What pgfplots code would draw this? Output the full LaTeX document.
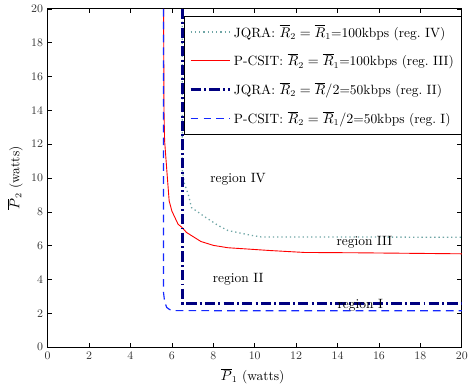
\documentclass[border=0pt]{standalone}
\usepackage{fontspec}
\usepackage{pgfplots}
\pgfplotsset{compat=1.18}
\newfontfamily\tickfont{Liberation Sans}
\definecolor{dotteal}{RGB}{110,165,165}
\definecolor{myblue}{RGB}{20,40,255}
\definecolor{mynavy}{RGB}{0,0,128}
\begin{document}
\begin{tikzpicture}[font=\fontsize{10.5}{12.6}\selectfont]
\begin{axis}[name=ax,
  scale only axis, width=322bp, height=263bp,
  xmin=0,xmax=20,ymin=0,ymax=20,
  xtick={0,2,...,20}, ytick={0,2,...,20},
  tick align=inside, major tick length=3.5bp,
  axis line style={line width=0.9bp},
  tick style={black, line width=0.5bp},
  ticklabel style={font=\tickfont\fontsize{8.8}{10}\selectfont, text=black!80},
  xticklabel style={yshift=-0.5bp},
  xlabel={$\overline{P}_1$ (watts)},
  ylabel={$\overline{P}_2$ (watts)},
  every axis x label/.style={at={(axis description cs:0.495,-0.085)},anchor=center},
  every axis y label/.style={at={(axis description cs:-0.079,0.5)},rotate=90,anchor=center},
  legend cell align=left,
  legend style={at={(1,0.98)},anchor=north east, draw=black, line width=0.5bp,
     row sep=7.5bp, inner xsep=4bp, inner ysep=5bp, font=\fontsize{10.5}{12.6}\selectfont},
  legend image code/.code={\draw[#1] (0cm,0cm) -- (1.08cm,0cm);},
]
\addplot[dotteal, line width=1bp, dash pattern=on 1bp off 2.3bp] coordinates {
(6.5,20) (6.5,10.5) (6.6,9.7) (6.8,9.0) (6.95,8.25) (7.6,7.7) (8.23,7.2) (8.7,6.9) (9.8,6.62) (10.3,6.52) (20,6.5)};
\addlegendentry{JQRA: $\overline{R}_2=\overline{R}_1$=100kbps (reg.~IV)}
\addplot[red, line width=0.7bp] coordinates {
(5.6,20) (5.62,14) (5.65,12.2) (5.76,10.4) (5.87,8.65) (6.0,8.05) (6.3,7.27) (6.47,7.1) (6.71,6.78) (7.4,6.25) (8.0,6.02) (8.7,5.88) (10.8,5.71) (12.4,5.6) (15,5.58) (20,5.52)};
\addlegendentry{P-CSIT: $\overline{R}_2=\overline{R}_1$=100kbps (reg.~III)}
\addplot[mynavy, line width=2bp, dash pattern=on 8bp off 2.5bp on 1.5bp off 2.5bp] coordinates {
(6.52,20) (6.52,2.57) (20,2.57)};
\addlegendentry{JQRA: $\overline{R}_2=\overline{R}/2$=50kbps (reg.~II)}
\addplot[myblue, line width=0.9bp, dash pattern=on 6bp off 4bp] coordinates {
(5.6,20) (5.6,3.2) (5.65,2.7) (5.75,2.35) (5.9,2.22) (6.2,2.16) (20,2.15)};
\addlegendentry{P-CSIT: $\overline{R}_2=\overline{R}_1/2$=50kbps (reg.~I)}
\node at (axis cs:9.2,9.9) {region IV};
\node at (axis cs:15.3,6.2) {region III};
\node at (axis cs:9.2,4.0) {region II};
\node at (axis cs:15.1,2.45) {region I};
\end{axis}
\path ([shift={(-37bp,-31.6bp)}]ax.south west) rectangle ([shift={(4.6bp,6.9bp)}]ax.north east);
\end{tikzpicture}
\end{document}
